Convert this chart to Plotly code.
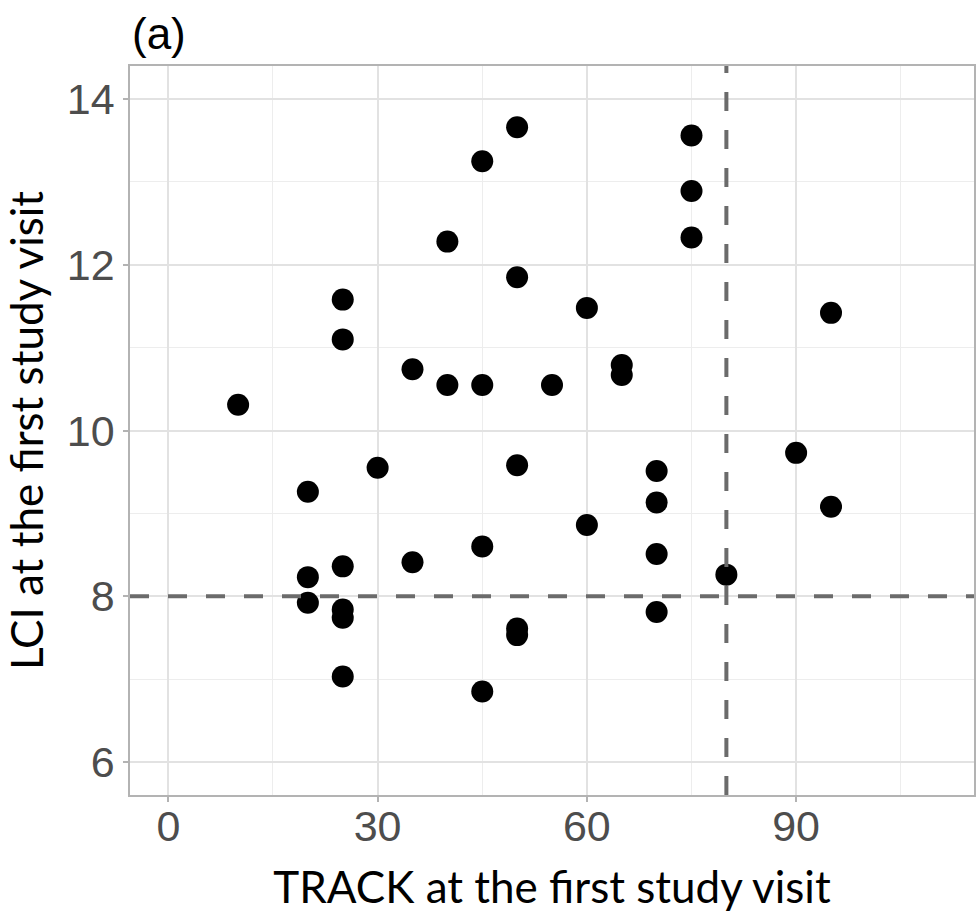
import plotly.graph_objects as go

# TRACK score (x) and LCI (y) at the first study visit
track = [10,
         20, 20, 20,
         25, 25, 25, 25, 25, 25,
         30,
         35, 35,
         40, 40,
         45, 45, 45, 45,
         50, 50, 50, 50, 50,
         55,
         60, 60,
         65, 65,
         70, 70, 70, 70,
         75, 75, 75,
         80,
         90,
         95, 95]
lci = [10.31,
       9.26, 8.23, 7.92,
       11.58, 11.10, 8.36, 7.84, 7.74, 7.03,
       9.55,
       10.74, 8.41,
       12.28, 10.55,
       13.25, 10.55, 8.60, 6.85,
       13.66, 11.85, 9.58, 7.61, 7.53,
       10.55,
       11.48, 8.86,
       10.79, 10.67,
       9.51, 9.13, 8.51, 7.81,
       13.56, 12.89, 12.33,
       8.26,
       9.73,
       11.42, 9.08]

TRACK_CUTOFF = 80
LCI_CUTOFF = 8

x_ticks = [0, 30, 60, 90]
x_minor = [15, 45, 75, 105]
y_ticks = [6, 8, 10, 12, 14]
y_minor = [7, 9, 11, 13]

BORDER = "#B3B3B3"
GRID = "#E2E2E2"
GRID_MINOR = "#EDEDED"
TICKFONT = dict(family="Liberation Sans, Arial, sans-serif", size=43, color="#4D4D4D")
TITLEFONT = dict(family="Lato, sans-serif", size=44, color="#000000")

fig = go.Figure()
fig.add_trace(go.Scatter(
    x=track, y=lci, mode="markers",
    marker=dict(size=22, color="#000000", line=dict(width=0)),
    showlegend=False, hoverinfo="x+y",
))

fig.add_vline(x=TRACK_CUTOFF, line=dict(color="#6B6B6B", width=4, dash="19px,19px"), layer="above")
fig.add_hline(y=LCI_CUTOFF, line=dict(color="#6B6B6B", width=4, dash="19px,19px"), layer="above")

fig.update_xaxes(
    range=[-5.5, 115.5], tickvals=x_ticks, ticktext=[str(v) for v in x_ticks],
    showgrid=True, gridcolor=GRID, gridwidth=1.5,
    minor=dict(tickvals=x_minor, showgrid=True, gridcolor=GRID_MINOR, gridwidth=1),
    showline=True, mirror=True, linecolor=BORDER, linewidth=1.5,
    ticks="outside", ticklen=5, tickwidth=1.5, tickcolor=BORDER,
    tickfont=TICKFONT, zeroline=False, ticklabelstandoff=-12,
    title=dict(text="TRACK at the first study visit", font=TITLEFONT, standoff=30),
)
fig.update_yaxes(
    range=[5.6, 14.4], tickvals=y_ticks, ticktext=[str(v) for v in y_ticks],
    showgrid=True, gridcolor=GRID, gridwidth=1.5,
    minor=dict(tickvals=y_minor, showgrid=True, gridcolor=GRID_MINOR, gridwidth=1),
    showline=True, mirror=True, linecolor=BORDER, linewidth=1.5,
    ticks="outside", ticklen=5, tickwidth=1.5, tickcolor=BORDER,
    tickfont=TICKFONT, zeroline=False,
    title=dict(text="LCI at the first study visit", font=TITLEFONT, standoff=14),
)

fig.add_annotation(
    text="(a)", xref="paper", yref="paper", x=0, y=1,
    xanchor="left", yanchor="middle", yshift=33, showarrow=False,
    font=dict(family="Liberation Sans, Arial, sans-serif", size=44, color="#000000"),
)

fig.update_layout(
    width=977, height=912,
    margin=dict(l=130, r=1, t=66, b=113),
    plot_bgcolor="#FFFFFF", paper_bgcolor="#FFFFFF",
)

fig.write_html("out.html")
